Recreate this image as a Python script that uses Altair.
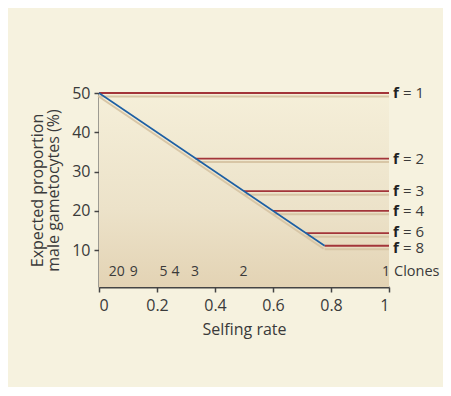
import altair as alt
import pandas as pd

# ---- data ----
f_values = [1, 2, 3, 4, 6, 8]
f_levels = [50.0, 33.3, 25.0, 20.0, 14.3, 11.1]
f_start = [0.0, 0.333, 0.5, 0.6, 0.714, 0.778]

blue_x = [0.0, 0.778]
blue_y = [50.0, 11.1]

clone_labels = ["20", "9", "5", "4", "3", "2", "1"]
clone_x = [0.061, 0.12, 0.222, 0.264, 0.331, 0.498, 0.99]
clone_y = 4.4

x_ticks = [0, 0.2, 0.4, 0.6, 0.8, 1]
y_ticks = [10, 20, 30, 40, 50]
y_min, y_max = 0.6, 50.0

FONT = "Open Sans"
CREAM = "#f6f2df"
RED = "#a3353a"
BLUE = "#1d5fa3"
SHADOW = "#d8c6a6"
DARK = "#444444"
TXT = "#3a3a3a"

f_df = pd.DataFrame({
    "f": f_values,
    "level": f_levels,
    "start": f_start,
    "end": [1.0] * len(f_values),
    "eq": [f"= {v}" for v in f_values],
    "fl": ["f"] * len(f_values),
})
blue_df = pd.DataFrame({"s": blue_x, "p": blue_y})
clone_df = pd.DataFrame({"lab": clone_labels, "s": clone_x, "p": [clone_y] * len(clone_x)})
panel_df = pd.DataFrame({"x0": [0.0], "x1": [1.0], "y0": [y_min], "y1": [y_max]})
clones_word = pd.DataFrame({"s": [1.0], "p": [clone_y], "t": ["Clones"]})

xs = alt.Scale(domain=[0, 1], nice=False, zero=False)
ys = alt.Scale(domain=[y_min, y_max], nice=False, zero=False)

xaxis = alt.Axis(values=x_ticks, labelExpr="datum.value == 0 ? '0' : datum.value == 1 ? '1' : format(datum.value, '.1f')",
                 title="Selfing rate", grid=False, tickSize=5, labelPadding=5, titlePadding=8,
                 domainWidth=2, domainColor=DARK, tickColor=DARK, tickWidth=1.5)
yaxis = alt.Axis(values=y_ticks, title=["Expected proportion", "male gametocytes (%)"], grid=False,
                 tickSize=5, labelPadding=4, titlePadding=10, titleLineHeight=16,
                 domainWidth=2, domainColor=DARK, tickColor=DARK, tickWidth=1.5)

grad = alt.LinearGradient(
    gradient="linear",
    stops=[alt.GradientStop(color="#f5efd9", offset=0),
           alt.GradientStop(color="#ece2c9", offset=0.6),
           alt.GradientStop(color="#e3d3b4", offset=1)],
    x1=0, x2=0, y1=0, y2=1,
)

panel = alt.Chart(panel_df).mark_rect(color=grad).encode(
    x=alt.X("x0:Q", scale=xs, axis=xaxis),
    x2="x1:Q",
    y=alt.Y("y0:Q", scale=ys, axis=yaxis),
    y2="y1:Q",
)

red_shadow = alt.Chart(f_df).mark_rule(color=SHADOW, strokeWidth=2, yOffset=3.5).encode(
    x=alt.X("start:Q", scale=xs), x2="end:Q", y=alt.Y("level:Q", scale=ys))
red = alt.Chart(f_df).mark_rule(color=RED, strokeWidth=1.8).encode(
    x=alt.X("start:Q", scale=xs), x2="end:Q", y=alt.Y("level:Q", scale=ys))

blue_shadow = alt.Chart(blue_df).mark_line(color=SHADOW, strokeWidth=2, yOffset=3, xOffset=-1).encode(
    x=alt.X("s:Q", scale=xs), y=alt.Y("p:Q", scale=ys))
blue = alt.Chart(blue_df).mark_line(color=BLUE, strokeWidth=1.6).encode(
    x=alt.X("s:Q", scale=xs), y=alt.Y("p:Q", scale=ys))


def f_labels(cond, dy):
    base = alt.Chart(f_df).transform_filter(cond)
    b = base.mark_text(font=FONT, fontSize=15, fontWeight="bold", align="left",
                       baseline="middle", dx=4, dy=dy, color="#222222").encode(
        x=alt.X("end:Q", scale=xs), y=alt.Y("level:Q", scale=ys), text="fl:N")
    e = base.mark_text(font=FONT, fontSize=15, align="left", baseline="middle",
                       dx=14, dy=dy, color=TXT).encode(
        x=alt.X("end:Q", scale=xs), y=alt.Y("level:Q", scale=ys), text="eq:N")
    return [b, e]


lab_main = f_labels("datum.f <= 4", 0)
lab_6 = f_labels("datum.f == 6", -1.5)
lab_8 = f_labels("datum.f == 8", 2.5)

clones = alt.Chart(clone_df).mark_text(font=FONT, fontSize=14, align="center", baseline="middle",
                                       color=TXT).encode(
    x=alt.X("s:Q", scale=xs), y=alt.Y("p:Q", scale=ys), text="lab:N")
clones_txt = alt.Chart(clones_word).mark_text(font=FONT, fontSize=14.5, align="left", baseline="middle",
                                              dx=5, color=TXT).encode(
    x=alt.X("s:Q", scale=xs), y=alt.Y("p:Q", scale=ys), text="t:N")

chart = alt.layer(panel, red_shadow, red, blue_shadow, blue, *lab_main, *lab_6, *lab_8,
                  clones, clones_txt).properties(
    width=290, height=194,
    autosize=alt.AutoSizeParams(type="none"),
    padding={"left": 91, "top": 85, "right": 54, "bottom": 100},
    background=CREAM,
).configure_view(stroke=None).configure_axis(
    labelFont=FONT, titleFont=FONT, labelFontSize=16, titleFontSize=16,
    labelColor=TXT, titleColor=TXT, titleFontWeight="normal",
)

chart.save("out.html", embed_options={"renderer": "svg", "actions": False})
